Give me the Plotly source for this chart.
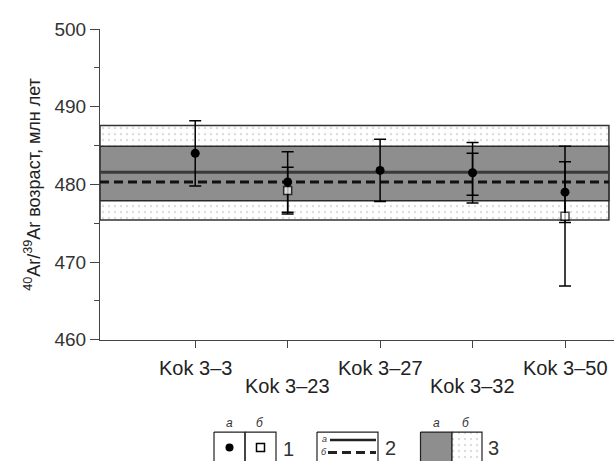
import plotly.graph_objects as go

# ---------------- data ----------------
samples = ["Kok 3–3", "Kok 3–23", "Kok 3–27", "Kok 3–32", "Kok 3–50"]
sample_pos = [1, 2, 3, 4, 5]

# series "а" (filled dots)
age_a = [484.0, 480.3, 481.8, 481.5, 479.0]
err_a = [4.2, 3.9, 4.0, 3.9, 3.9]

# series "б" (open squares)
pos_b = [2, 4, 5]
age_b = [479.2, 481.3, 475.9]
err_b = [3.0, 2.7, 9.0]
size_b = [8, 0, 8]          # 3-32 square hidden behind its dot

# weighted means / bands
mean_a = 481.55
mean_b = 480.3
band_a = (477.9, 484.9)
band_b = (475.4, 487.6)

y_ticks = [460, 470, 480, 490, 500]

W, H = 614, 472
L_PX, R_PX, T_PX, B_PX = 100, 614, 20, 345
x_range = [-0.03, 5.53]
band_x_end = 5.475

DOTS = dict(shape=".", fgcolor="#b8b8b8", bgcolor="white", size=6, solidity=0.12)

fig = go.Figure()

def rect(x0, x1, y0, y1):
    return [x0, x1, x1, x0, x0], [y0, y0, y1, y1, y0]

# outer dotted band (б)
bx, by = rect(x_range[0], band_x_end, band_b[0], band_b[1])
fig.add_trace(go.Scatter(x=bx, y=by, mode="lines", fill="toself",
                         fillcolor="white", fillpattern=DOTS,
                         line=dict(color="#333", width=1.5), hoverinfo="skip"))
# inner gray band (а)
ax_, ay_ = rect(x_range[0], band_x_end, band_a[0], band_a[1])
fig.add_trace(go.Scatter(x=ax_, y=ay_, mode="lines", fill="toself",
                         fillcolor="#8e8e8e",
                         line=dict(color="#2a2a2a", width=1.5), hoverinfo="skip"))
# mean lines
fig.add_trace(go.Scatter(x=[x_range[0], band_x_end], y=[mean_a, mean_a], mode="lines",
                         line=dict(color="#3a3a3a", width=3), hoverinfo="skip"))
fig.add_trace(go.Scatter(x=[x_range[0], band_x_end], y=[mean_b, mean_b], mode="lines",
                         line=dict(color="#111", width=3, dash="9px,5px"), hoverinfo="skip"))

# data: dots
fig.add_trace(go.Scatter(x=sample_pos, y=age_a, mode="markers",
                         marker=dict(symbol="circle", size=9, color="black"),
                         error_y=dict(type="data", array=err_a, visible=True,
                                      color="black", thickness=1.5, width=6)))
# data: squares
fig.add_trace(go.Scatter(x=pos_b, y=age_b, mode="markers",
                         marker=dict(symbol="square", size=size_b, color="white",
                                     line=dict(color="black", width=1.5)),
                         error_y=dict(type="data", array=err_b, visible=True,
                                      color="black", thickness=1.5, width=6)))

# ---------------- key (pixel overlay axes) ----------------
def kbox(x0, x1, y0, y1, **kw):
    xs, ys = rect(x0, x1, y0, y1)
    fig.add_trace(go.Scatter(x=xs, y=ys, mode="lines", xaxis="x2", yaxis="y2",
                             hoverinfo="skip", **kw))

KT, KB = 441.7, 480
kbox(214, 245, KT, KB, line=dict(color="#222", width=1.2))
kbox(245, 276, KT, KB, line=dict(color="#222", width=1.2))
fig.add_trace(go.Scatter(x=[229.5], y=[458], mode="markers", xaxis="x2", yaxis="y2",
                         marker=dict(symbol="circle", size=8, color="black")))
fig.add_trace(go.Scatter(x=[260.5], y=[458], mode="markers", xaxis="x2", yaxis="y2",
                         marker=dict(symbol="square", size=8, color="white",
                                     line=dict(color="black", width=1.5))))
kbox(317, 378, KT, KB, line=dict(color="#222", width=1.2))
fig.add_trace(go.Scatter(x=[330, 376], y=[450, 450], mode="lines", xaxis="x2", yaxis="y2",
                         line=dict(color="#222", width=2.5)))
fig.add_trace(go.Scatter(x=[328, 376], y=[463, 463], mode="lines", xaxis="x2", yaxis="y2",
                         line=dict(color="#222", width=3, dash="9px,5px")))
kbox(420.5, 452, KT, KB, fill="toself", fillcolor="#8e8e8e", line=dict(color="#222", width=1.2))
kbox(452, 482, KT, KB, fill="toself", fillcolor="white", fillpattern=DOTS,
     line=dict(color="#222", width=1.2))

key_texts = [
    (229.5, 432, "а", 12, True), (260, 432, "б", 12, True),
    (436, 432, "а", 12, True), (466, 432, "б", 12, True),
    (288, 459, "1", 20, False), (390, 458, "2", 20, False), (493, 458, "3", 20, False),
    (324, 449, "а", 9, True), (324, 463, "б", 9, True),
]
annotations = []
for x, y, t, s, it in key_texts:
    annotations.append(dict(x=x, y=y, xref="x2", yref="y2", text=(f"<i>{t}</i>" if it else t),
                            showarrow=False, font=dict(size=s, color="#333",
                                                       family="Liberation Sans")))

# x category labels, alternating
for i, (p, lab) in enumerate(zip(sample_pos, samples)):
    annotations.append(dict(x=p, y=0, xref="x", yref="y domain", text=lab, showarrow=False,
                            yanchor="middle", yshift=-(28 if i % 2 == 0 else 46),
                            font=dict(size=20, color="#222", family="Liberation Sans")))

# y title
annotations.append(dict(x=33, y=183, xref="x2", yref="y2", textangle=-90, showarrow=False,
                        text="<sup>40</sup>Ar/<sup>39</sup>Ar возраст, млн лет",
                        font=dict(size=18, color="#222", family="Liberation Sans")))

fig.update_layout(
    width=W, height=H, margin=dict(l=0, r=0, t=0, b=0),
    paper_bgcolor="white", plot_bgcolor="rgba(0,0,0,0)", showlegend=False,
    font=dict(family="Liberation Sans", color="#222"),
    xaxis=dict(domain=[L_PX / W, R_PX / W], range=x_range, showline=True, linecolor="#444",
               linewidth=1, ticks="outside", ticklen=7, tickcolor="#444",
               tickvals=sample_pos, showticklabels=False, showgrid=False, zeroline=False,
               anchor="y"),
    yaxis=dict(domain=[(H - B_PX) / H, (H - T_PX) / H], range=[460, 500], showline=True,
               linecolor="#444", linewidth=1, ticks="outside", ticklen=9, tickcolor="#444",
               tickvals=y_ticks, tickfont=dict(size=19, color="#333"),
               minor=dict(dtick=5, ticklen=5, ticks="outside", tickcolor="#444"),
               showgrid=False, zeroline=False, anchor="x"),
    xaxis2=dict(domain=[0, 1], range=[0, W], visible=False, anchor="y2", fixedrange=True),
    yaxis2=dict(domain=[0, 1], range=[H, 0], visible=False, anchor="x2", fixedrange=True),
    annotations=annotations,
)

fig.write_html("out.html", config={"displayModeBar": False},
               post_script="document.body.style.margin='0';document.body.style.overflow='hidden';")
